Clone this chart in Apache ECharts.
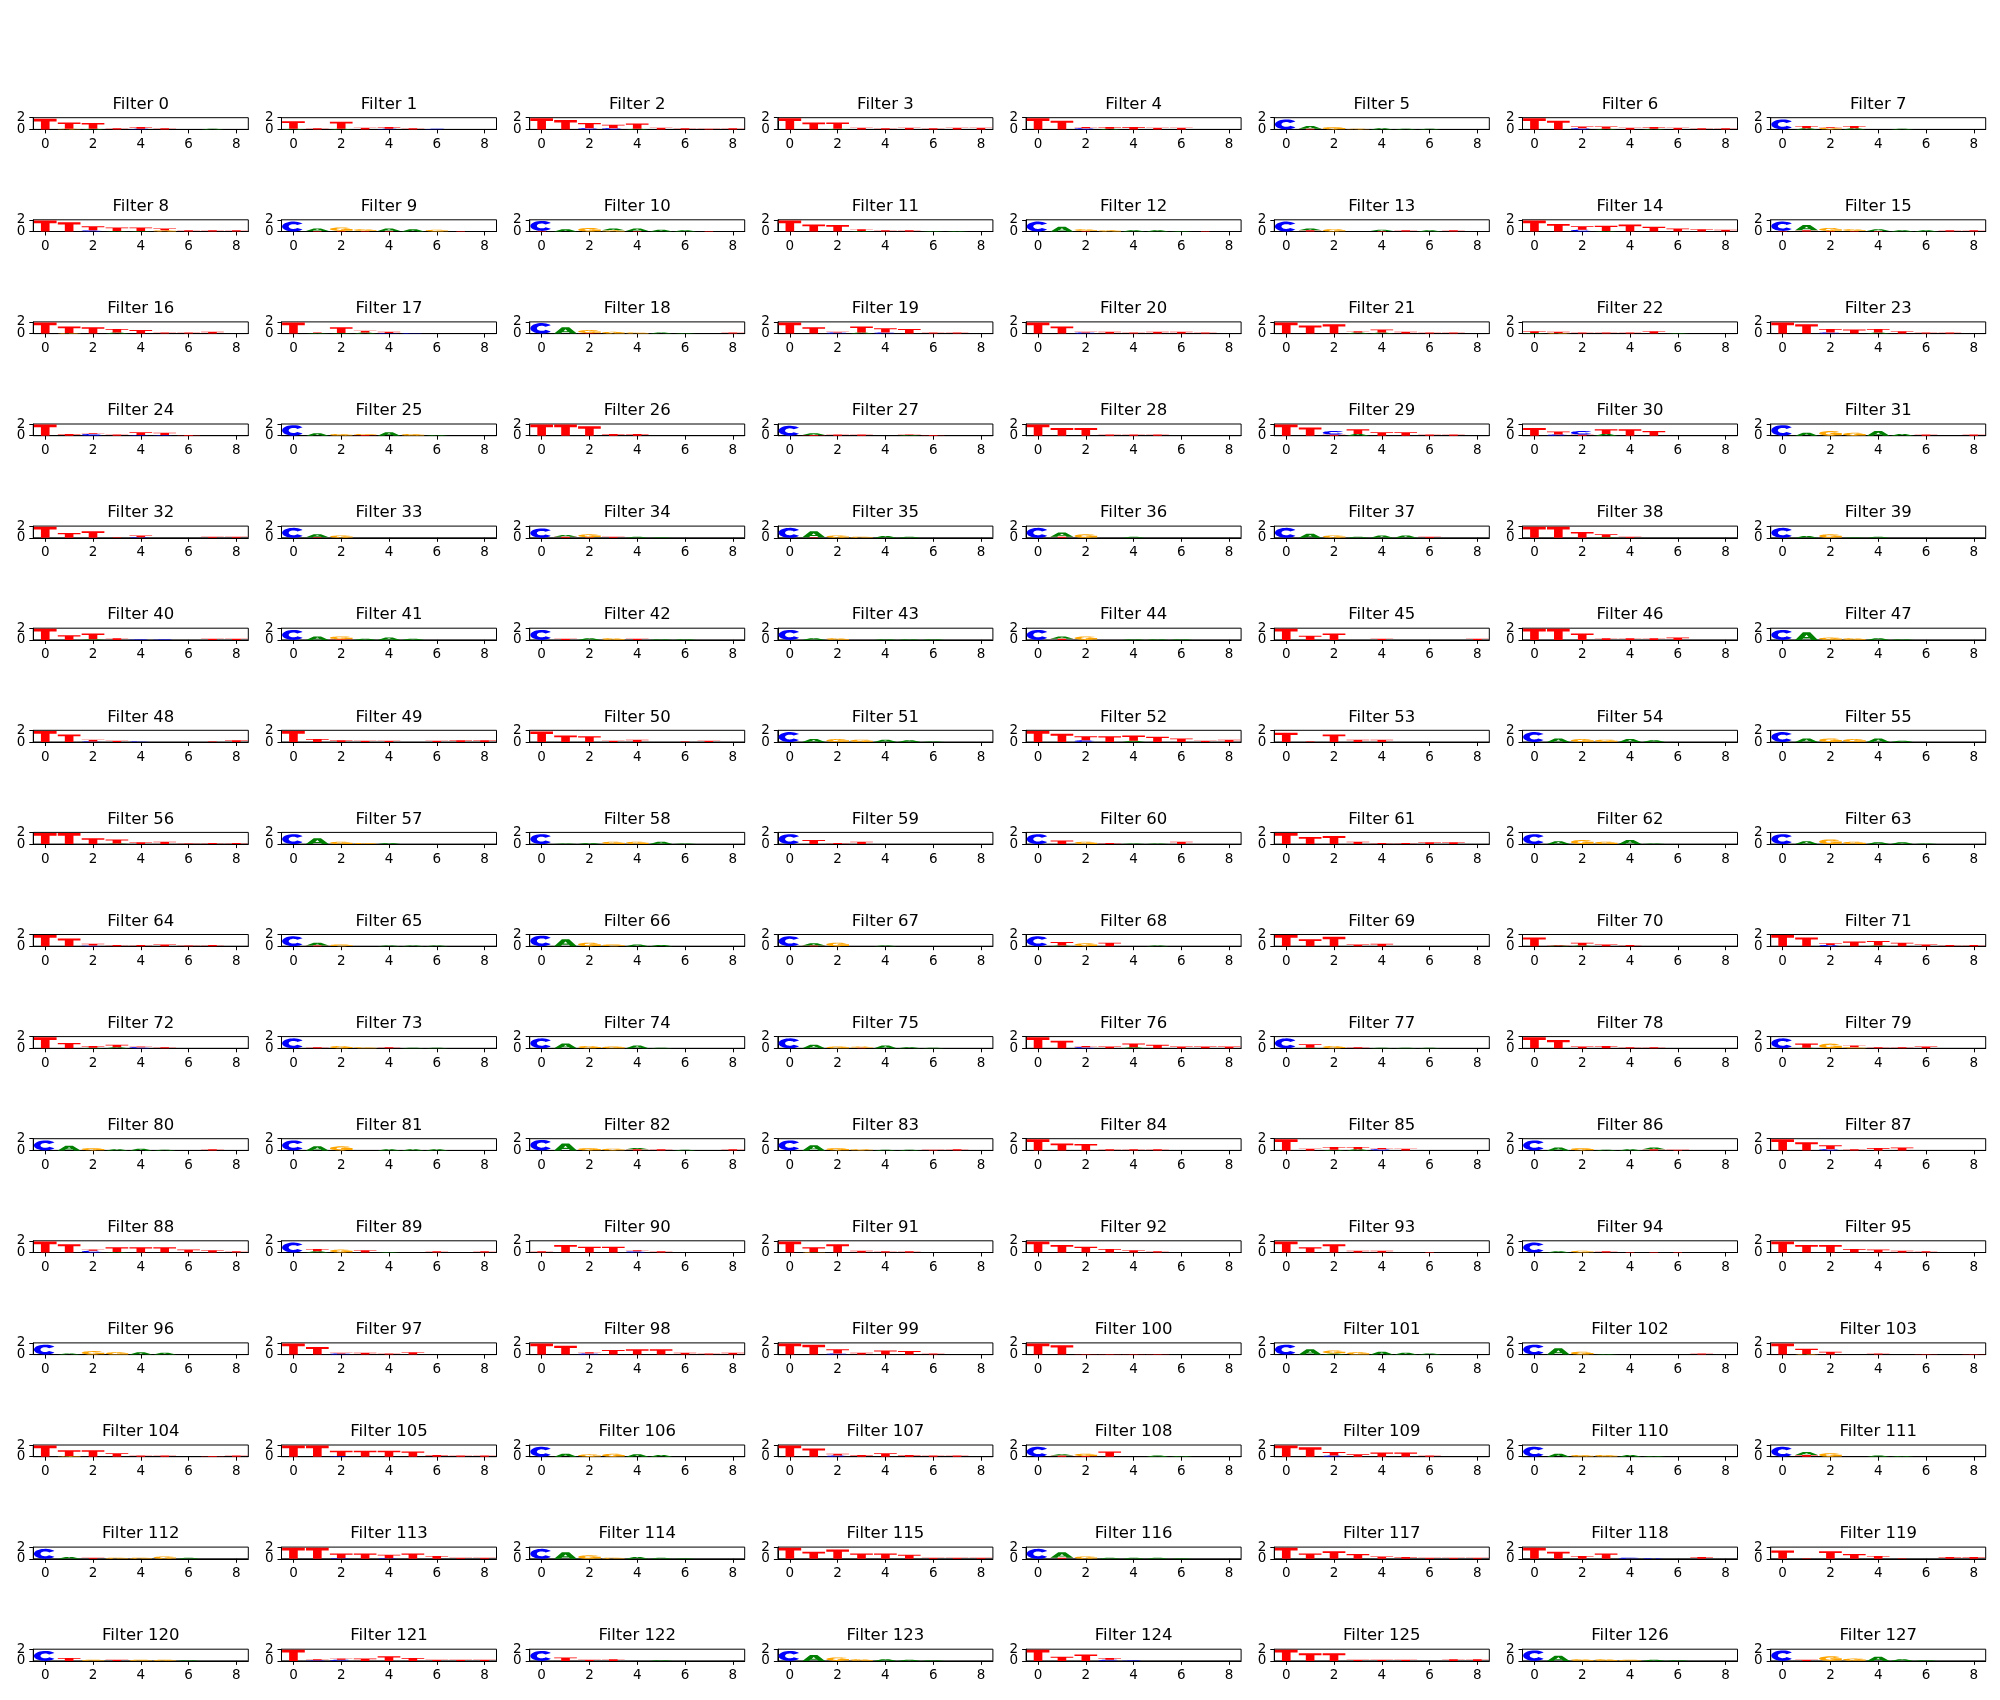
<!DOCTYPE html>
<html><head><meta charset="utf-8">
<script src="https://cdn.jsdelivr.net/npm/echarts@6/dist/echarts.min.js"></script>
<style>html,body{margin:0;padding:0;background:#fff}#c{width:2000px;height:1700px}</style>
</head><body><div id="c"></div>
<script>
// ---------------- data ----------------
const letterNames = ['A', 'C', 'G', 'T'];
const letterColors = { A: '#008000', C: '#0000ff', G: '#ffa500', T: '#ff0000' };
const positions = [0, 1, 2, 3, 4, 5, 6, 7, 8];
const xTickValues = [0, 2, 4, 6, 8];
const yTickValues = [0, 2];
// one string per filter, one token per position; letters listed bottom-to-top,
// heights in tenths of a bit ("0" = empty column)
const filterLogos = [
"T18 G1T11 A1T10 T2 C1T3 T2 0 A1 0",
"A1T13 T2 A1T12 T3 C1T3 T2 C1 0 0",
"T19 T16 C2T9 C2T6 A1T9 T3 T2 T1 T2",
"T19 T12 A1T11 T3 T2 T3 T2 T3 T3",
"T19 T15 C2T2 A1T3 T4 T3 T3 0 0",
"C17 T1A5 G4 G1 A2 A1 A1 0 0",
"T19 T15 C2T3 A1T4 T3 A1T3 T3 T2 T2",
"C17 A2T4 G3T1 A2T4 0 A1 0 0 0",
"T19 T16 C2T7 A1T6 A1T6 G2T3 T2 T2 T2",
"C17 T1A4 T1G6 T1G3 T1A4 A4 G3 T1 0",
"T1C17 A4 G6 G2A3 T1A4 A3 A2 T1 0",
"T19 T12 T11 A1T3 T2 T2 A1 A1 0",
"C17 A8 T1G3 G2 A2 A2 A1 T1 0",
"C17 T2A3 G4 0 T1A2 T2 A2 T2 0",
"T19 T13 C3T6 A1T9 T12 T8 T5 T4 T3",
"T1C16 T2A9 T1G5 T1G3 T1A3 A2 A2 T2 T2",
"T19 G1T11 T11 A2T6 T6 T2 T2 T3 0",
"T19 A1T1 A1T10 A2T3 C1T2 C1 0 0 0",
"C18 A11 T1G5 G3 G2 A2 A1 0 T2",
"T19 T11 C2T1 A2T10 C2T7 T8 T2 T2 0",
"T19 T12 C2T1 T3 T2 T3 T3 T2 0",
"T19 T14 T16 A2T2 A2T5 T3 T2 T2 0",
"A1T3 G1T2 T2 T2 T2 T4 A1 0 0",
"T19 T16 C2T6 T7 A2T6 T4 T2 T2 0",
"T19 T3 C3T1 T2 C1T5 C1T4 T1 0 0",
"C18 A4 G3 T1G2 A6 G3 A1 0 0",
"T19 T19 T16 T3 T3 0 0 0 0",
"C17 T1A3 T2 T2 0 A1T1 T1 0 0",
"T19 T13 T13 T2 T2 T2 0 0 0",
"T19 T14 T2C6 A3T8 T6 T6 T2 T2 0",
"T13 C2T5 T2C6 A3T8 T11 T8 0 0 0",
"C18 A5 G8 G5 A8 A3 T2 0 T2",
"T19 T8 T11 T1 C1T3 0 0 T2 T2",
"C17 T1A5 G4 0 0 0 0 0 0",
"C16 T2A3 T1G5 T2 A2 A1 0 0 0",
"C17 T1A10 G4 G2 A3 A2 0 0 0",
"C17 T2A7 G6 0 A2 0 0 0 0",
"C17 A7 G4 A2 A4 A4 T2 0 0",
"T19 T19 T10 A1T5 T2 0 0 0 0",
"C17 A3 G6 A1 A2 0 0 0 0",
"T19 T8 A1T10 T3 C1 C1 0 T2 T2",
"C17 A6 T1G5 A2 A4 A2 0 0 0",
"C17 T2 A3 G3 T2 A1 A1 0 0",
"C17 A3 G3 0 A1 A1 A1 0 0",
"C17 T2A4 G6 0 A1 A1 A1 0 0",
"T19 T7 T11 0 T2 0 0 0 T2",
"T19 T19 T11 T3 T3 T3 T4 0 0",
"C17 A13 G4 G3 A3 A1 0 0 0",
"T19 T13 C1T3 T2 C1 0 0 T1 T3",
"T19 T5 T3 T2 T2 0 T2 T3 T3",
"T18 T11 T10 T2 T4 0 T1 T2 0",
"C17 A5 G5 G4 A4 A3 A1 0 0",
"T19 T14 C3T7 T10 A2T9 T9 T6 T2 T4",
"T16 T1 T13 T4 T4 0 0 0 0",
"C17 A6 G5 G4 A5 A3 0 0 0",
"C17 A6 G6 G5 A6 A2 0 0 0",
"T19 T19 T10 A1T7 T3 T4 T1 T2 T2",
"C17 A10 G4 G2 A2 0 0 0 0",
"C17 A1 A2 G4 G4 A4 A1 0 0",
"C17 T7 T2 T4 0 0 0 0 0",
"C17 T6 G4 T2 A1 A1 T4 0 0",
"T19 T12 T14 T4 T2 T2 T3 T3 0",
"C17 A5 G7 G4 A7 A1 0 0 0",
"C17 A5 G8 G4 A3 A3 A1 0 0",
"T19 T13 C1T3 T2 T2 T3 T1 T2 0",
"C17 T1A5 G3 0 A1 A1 A1 0 0",
"C18 A12 G6 G3 A3 A2 0 0 0",
"C17 T1A4 G6 0 A1 0 0 0 0",
"C17 A1T6 G5 T6 0 A1 0 0 0",
"T19 T12 T16 T3 T4 0 0 0 0",
"T15 A1T1 A1T5 T3 T2 0 0 0 0",
"T19 T15 C2T3 T8 A1T8 T6 T3 T2 T2",
"T19 T9 A1T3 A2T4 C2T1 T2 0 0 0",
"C17 T2 G4 G2 T2 A1 A1 0 0",
"C17 A8 G4 G3 A5 A1 0 0 0",
"C17 A6 G3 T1G2 A5 A2 A1 0 0",
"T19 T13 C2T2 T3 A2T6 T6 T3 T3 T3",
"C17 A1T6 G4 T2 A1 A1 A1 0 0",
"T19 T14 T3 T4 T2 T2 0 0 0",
"C17 A1T7 G8 G2T3 T2 T2 T3 0 0",
"C17 A8 G4 A2 A3 A1 0 T2 0",
"C17 A7 G7 0 A2 A2 A2 0 0",
"C18 A12 G4 G3 T2A2 T2 A1 0 T2",
"C17 A9 G4 G2 A1 A1 T1 T2 0",
"T19 T12 T11 T2 T2 T2 0 0 0",
"T19 T3 A1T5 A2T4 C2T2 T3 0 0 0",
"C17 A5 G4 A1 A2 T2A3 T1 0 0",
"T19 T14 C2T7 T2 T4 T5 0 0 0",
"T19 T14 C3T2 A1T8 T9 T9 T5 T4 T2",
"C17 A2T4 G5 T4 A1 0 T2 0 T2",
"T2 T13 T10 T10 C2T2 T2 0 0 0",
"T19 G1T8 T14 T3 T2 T2 0 0 0",
"T19 T13 T10 T6 T4 T2 0 0 0",
"T19 T9 T14 T3 T3 0 T1 0 0",
"C17 A2 G3 T2 T1 T1 T1 0 0",
"T19 T13 T13 T6 T5 T3 T2 0 0",
"C17 A2 G6 G4 A4 A3 0 0 0",
"T19 T13 C2T1 T3 T2 T4 0 0 0",
"T19 T15 C2T2 T8 T9 T9 T3 T2 T3",
"T19 T17 C2T7 T3 T7 T6 T2 0 0",
"T19 T16 T1 T1 T1 T1 0 0 0",
"C17 A9 A2G5 G4 A5 A3 A2 0 0",
"C17 A11 G5 A1 0 0 0 T2 0",
"T19 G1T9 T5 0 T2 0 T1 0 T1",
"T19 G1T10 T11 T6 T2 T2 0 T1 T2",
"T19 T19 C1T9 T10 T10 T9 T3 T2 T2",
"C17 A5 G4 G5 A4 A3 0 0 0",
"T19 T14 C2T3 T3 T6 T3 T2 T2 0",
"C17 T2A2 T1G4 T9 0 A2 A1 0 0",
"T19 T16 C2T6 T4 T7 T7 T2 0 0",
"C17 A5 G3 G3 A3 A1 0 0 0",
"C17 T3A5 G6 0 A2 A1 0 0 0",
"C17 A3 T2 G2 G2 G4 A2 0 0",
"T19 T19 C1T8 T9 C1T6 T9 T5 T2 T2",
"C17 A11 G6 G2 A3 A2 A1 0 0",
"T19 T12 T16 T9 T9 T7 T2 T2 T2",
"C17 T2A9 G4 A2 A2 A2 A1 0 0",
"T19 T9 T13 T8 T4 T3 T2 T2 T2",
"T19 T12 T5 T9 C2 C1 0 T3 0",
"T14 T1 T13 T8 T5 T1 0 T3 T3",
"C17 T5 G2 T2 G2 G2 A1 0 0",
"T19 C1T2 C2T2 T4 T8 T5 T2 T2 T2",
"C17 T6 T2 T3 0 A1 0 0 0",
"C17 A10 G6 G3 A3 A2 A1 0 0",
"T19 T7 T11 C2T3 C1 0 0 0 0",
"T19 T13 T13 T2 T2 T2 0 T3 T3",
"C18 A9 G3 G3 G2 A2 A1 0 0",
"C18 T2 G8 G4 A7 A3 A1 0 0"
];

// ---------------- glyph outlines (unit box, v up) ----------------
function arc(cx, cy, rx, ry, a0, a1, n) {
  const pts = [];
  for (let i = 0; i <= n; i++) {
    const a = (a0 + (a1 - a0) * i / n) * Math.PI / 180;
    pts.push([cx + rx * Math.cos(a), cy + ry * Math.sin(a)]);
  }
  return pts;
}
const glyphs = {
  T: [[[0.31, 0], [0.69, 0], [0.69, 0.75], [1, 0.75], [1, 1], [0, 1], [0, 0.75], [0.31, 0.75]]],
  A: [
    [[0, 0], [0.29, 0], [0.35, 0.2], [0.65, 0.2], [0.71, 0], [1, 0], [0.66, 1], [0.34, 1]],
    [[0.41, 0.38], [0.5, 0.68], [0.59, 0.38]]
  ],
  C: [arc(0.5, 0.5, 0.5, 0.5, 36, 324, 28).concat(arc(0.5, 0.5, 0.21, 0.24, 324, 36, 28))],
  G: [
    arc(0.5, 0.5, 0.5, 0.5, 36, 345, 28).concat(arc(0.5, 0.5, 0.21, 0.24, 345, 36, 28)),
    [[0.5, 0.36], [1, 0.36], [1, 0.56], [0.5, 0.56]],
    [[0.74, 0.08], [1, 0.08], [1, 0.56], [0.74, 0.56]]
  ]
};

function parseLogo(str) {
  const items = [];
  str.split(' ').forEach((tok, pos) => {
    let base = 0;
    const re = /([ACGT])(\d+)/g;
    let m;
    while ((m = re.exec(tok)) !== null) {
      const h = parseInt(m[2], 10) / 10;
      items.push([positions[pos], base, base + h, letterNames.indexOf(m[1])]);
      base += h;
    }
  });
  return items;
}

function renderItem(params, api) {
  const x = api.value(0), y0 = api.value(1), y1 = api.value(2);
  const L = letterNames[api.value(3)];
  const pA = api.coord([x - 0.475, y0]);
  const pB = api.coord([x + 0.475, y1]);
  const w = pB[0] - pA[0], h = pB[1] - pA[1];
  let d = '';
  glyphs[L].forEach(contour => {
    contour.forEach((p, i) => {
      d += (i ? 'L' : 'M') + (pA[0] + p[0] * w).toFixed(2) + ' ' + (pA[1] + p[1] * h).toFixed(2) + ' ';
    });
    d += 'Z ';
  });
  return { type: 'path', shape: { pathData: d }, style: { fill: letterColors[L] } };
}

// ---------------- layout ----------------
const COLS = 8;
const GX0 = 33.3, GDX = 248.2, GW = 215;
const GY0 = 117.7, GDY = 102.1, GH = 11.7;
const FONT = 'DejaVu Sans';
const tickStyle = { color: '#000', width: 1 };

function yAxisFor(i, labelValues, showLine) {
  return { gridIndex: i, type: 'value', min: 0, max: 2, interval: 2, position: 'left', offset: 0,
    axisLine: { show: showLine, onZero: false, lineStyle: tickStyle },
    axisTick: { show: true, customValues: labelValues, length: 4, lineStyle: tickStyle },
    axisLabel: { customValues: labelValues, fontSize: 13.5, color: '#000', margin: 8,
      fontFamily: FONT, showMinLabel: true, showMaxLabel: true },
    splitLine: { show: false } };
}

const grids = [], xAxes = [], yAxes = [], series = [], titles = [];
filterLogos.forEach((logo, i) => {
  const r = Math.floor(i / COLS), c = i % COLS;
  const left = GX0 + c * GDX, top = GY0 + r * GDY;
  grids.push({ left: left, top: top, width: GW, height: GH, show: true,
    borderColor: '#000', borderWidth: 1, backgroundColor: '#fff', containLabel: false });
  xAxes.push({ gridIndex: i, type: 'value', min: -0.5, max: 8.5,
    axisLine: { show: true, onZero: false, lineStyle: tickStyle },
    axisTick: { show: true, customValues: xTickValues, length: 4, lineStyle: tickStyle },
    axisLabel: { customValues: xTickValues, fontSize: 13.5, color: '#000', margin: 8, fontFamily: FONT,
      showMinLabel: true, showMaxLabel: true },
    splitLine: { show: false } });
  // top tick label ("2") on the main axis, bottom tick label ("0") on a twin axis,
  // so the two tightly packed labels are not hidden as overlapping
  yAxes.push(yAxisFor(i, yTickValues.filter(v => v !== 0), true));
  yAxes.push(yAxisFor(i, yTickValues.filter(v => v === 0), false));
  series.push({ type: 'custom', xAxisIndex: i, yAxisIndex: 2 * i, renderItem: renderItem,
    encode: { x: 0, y: [1, 2] }, data: parseLogo(logo), silent: true, clip: false });
  titles.push({ text: 'Filter ' + i, left: left + GW / 2, top: top - 21.5, textAlign: 'center', padding: 0,
    textStyle: { fontSize: 16.5, fontWeight: 'normal', color: '#000', fontFamily: FONT } });
});

const chart = echarts.init(document.getElementById('c'), null, { renderer: 'canvas' });
chart.setOption({
  backgroundColor: '#fff',
  animation: false,
  title: titles,
  grid: grids,
  xAxis: xAxes,
  yAxis: yAxes,
  series: series
});
</script>
</body></html>
